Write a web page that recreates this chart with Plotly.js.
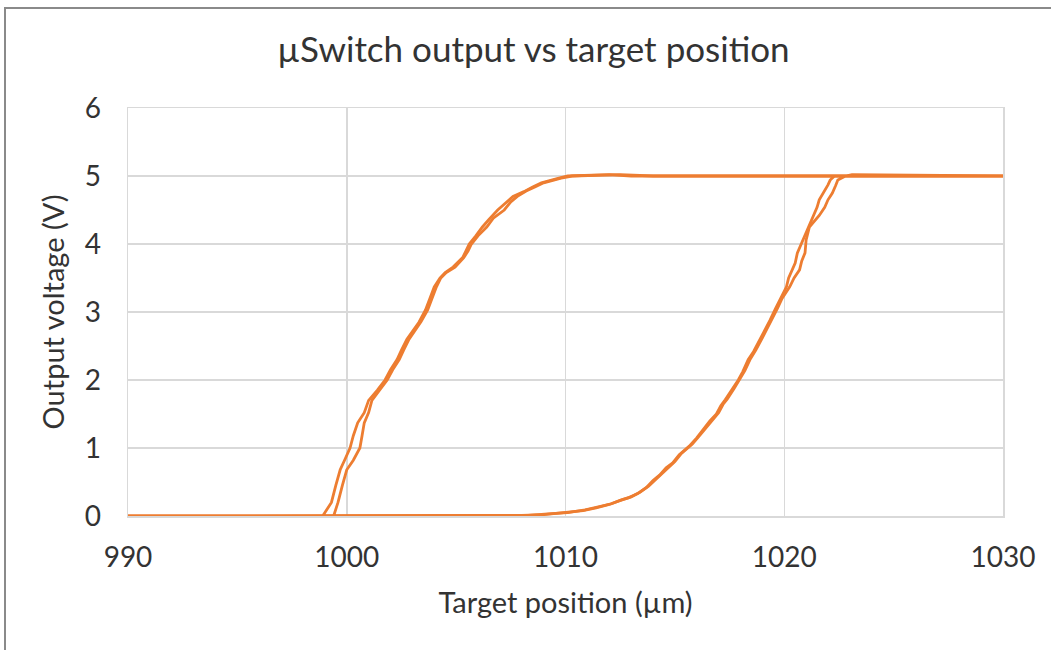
<!DOCTYPE html>
<html>
<head>
<meta charset="utf-8">
<script src="https://cdn.plot.ly/plotly-3.0.1.min.js"></script>
<style>
  html, body { margin: 0; padding: 0; background: #ffffff; }
  #chart { width: 1051px; height: 650px; position: absolute; left: 0; top: 0; }
  #frame { position: absolute; left: 4px; top: 7px; width: 1060px; height: 660px;
           border-top: 2px solid #8a8a8a; border-left: 2px solid #8a8a8a; pointer-events: none; }
</style>
</head>
<body>
<div id="chart"></div>
<div id="frame"></div>
<script>
// Cycle A: forward sweep (rising edge) then backward sweep (falling edge)
const riseX_A = [990, 1004, 1007.3, 1008.0, 1009.0, 1010.0, 1010.8, 1011.4, 1012.0, 1012.5, 1012.9, 1013.3, 1013.7, 1014.0, 1014.3, 1014.6, 1014.9, 1015.2, 1015.4, 1015.7, 1016.0, 1016.3, 1016.6, 1016.9, 1017.1, 1017.3, 1017.6, 1017.9, 1018.1, 1018.35, 1018.6, 1018.9, 1019.1, 1019.35, 1019.6, 1019.8, 1020.1, 1020.2, 1020.35, 1020.5, 1020.6, 1020.85, 1021.1, 1021.3, 1021.5, 1021.6, 1021.8, 1022.0, 1022.1, 1022.3, 1030];
const riseY_A = [0, 0, 0, 0.01, 0.02, 0.05, 0.08, 0.12, 0.17, 0.23, 0.27, 0.33, 0.42, 0.52, 0.60, 0.71, 0.78, 0.90, 0.96, 1.04, 1.15, 1.27, 1.40, 1.50, 1.62, 1.71, 1.85, 2.00, 2.12, 2.30, 2.42, 2.60, 2.72, 2.88, 3.05, 3.18, 3.37, 3.50, 3.62, 3.72, 3.87, 4.06, 4.25, 4.40, 4.54, 4.65, 4.75, 4.87, 4.94, 5.0, 5.0];
const fallX_A = [1030, 1013, 1012, 1010.8, 1010.1, 1009.7, 1009.3, 1008.9, 1008.5, 1008.1, 1007.6, 1007.3, 1006.9, 1006.5, 1006.2, 1005.9, 1005.6, 1005.45, 1005.3, 1004.86, 1004.5, 1004.26, 1004.0, 1003.8, 1003.6, 1003.3, 1003.0, 1002.75, 1002.5, 1002.3, 1002.0, 1001.75, 1001.4, 1001.0, 1000.8, 1000.5, 1000.3, 1000.15, 999.9, 999.7, 999.5, 999.3, 998.9, 990];
const fallY_A = [5, 5.0, 5.02, 5.01, 5.0, 4.97, 4.94, 4.9, 4.84, 4.77, 4.70, 4.62, 4.50, 4.36, 4.25, 4.12, 4.0, 3.9, 3.8, 3.66, 3.58, 3.50, 3.37, 3.20, 3.03, 2.85, 2.72, 2.60, 2.44, 2.30, 2.15, 2.0, 1.85, 1.70, 1.52, 1.37, 1.18, 1.0, 0.82, 0.68, 0.45, 0.2, 0, 0];

// Cycle B
const riseX_B = [990, 1005.5, 1007.6, 1008.3, 1009.2, 1010.1, 1010.9, 1011.5, 1012.1, 1012.6, 1013.0, 1013.4, 1013.8, 1014.1, 1014.4, 1014.7, 1015.0, 1015.3, 1015.5, 1015.8, 1016.1, 1016.4, 1016.7, 1017.0, 1017.2, 1017.4, 1017.7, 1018.0, 1018.2, 1018.45, 1018.7, 1019.0, 1019.2, 1019.45, 1019.7, 1019.9, 1020.25, 1020.45, 1020.7, 1020.8, 1020.95, 1021.0, 1021.15, 1021.6, 1021.85, 1022.0, 1022.2, 1022.35, 1022.45, 1022.8, 1023.1, 1030];
const riseY_B = [0, 0, 0, 0.01, 0.03, 0.05, 0.09, 0.13, 0.18, 0.24, 0.28, 0.35, 0.44, 0.53, 0.62, 0.72, 0.80, 0.92, 0.98, 1.06, 1.17, 1.29, 1.41, 1.52, 1.64, 1.72, 1.87, 2.02, 2.14, 2.31, 2.44, 2.62, 2.74, 2.90, 3.06, 3.20, 3.37, 3.50, 3.62, 3.75, 3.87, 4.06, 4.25, 4.42, 4.54, 4.65, 4.75, 4.86, 4.94, 5.0, 5.02, 5.0];
const fallX_B = [1030, 1014, 1012.5, 1011, 1010.3, 1009.8, 1009.4, 1009.0, 1008.6, 1008.2, 1007.8, 1007.5, 1007.2, 1006.7, 1006.4, 1006.0, 1005.7, 1005.55, 1005.35, 1004.95, 1004.55, 1004.3, 1004.1, 1003.9, 1003.7, 1003.4, 1003.1, 1002.85, 1002.6, 1002.4, 1002.1, 1001.85, 1001.5, 1001.15, 1001.0, 1000.8, 1000.7, 1000.6, 1000.3, 1000.0, 999.8, 999.6, 999.4, 990];
const fallY_B = [5, 5.0, 5.02, 5.01, 5.0, 4.97, 4.94, 4.9, 4.84, 4.78, 4.70, 4.62, 4.50, 4.38, 4.25, 4.12, 4.0, 3.9, 3.8, 3.66, 3.58, 3.50, 3.37, 3.20, 3.03, 2.86, 2.72, 2.60, 2.44, 2.30, 2.15, 2.0, 1.85, 1.70, 1.52, 1.37, 1.18, 1.0, 0.82, 0.68, 0.45, 0.2, 0, 0];

const xTicks = [990, 1000, 1010, 1020, 1030];
const yTicks = [0, 1, 2, 3, 4, 5, 6];

const lineColor = '#ED7D31';
const fontFam = 'Lato, "Open Sans", sans-serif';
const textColor = '#333333';

const traces = [
  { x: riseX_A.concat(fallX_A), y: riseY_A.concat(fallY_A) },
  { x: riseX_B.concat(fallX_B), y: riseY_B.concat(fallY_B) }
].map(d => ({
  x: d.x, y: d.y, type: 'scatter', mode: 'lines',
  line: { color: lineColor, width: 2.8 }, showlegend: false, hoverinfo: 'x+y'
}));

const layout = {
  width: 1051, height: 650,
  margin: { l: 128, r: 48, t: 108, b: 134 },
  paper_bgcolor: '#ffffff', plot_bgcolor: '#ffffff',
  font: { family: fontFam, color: textColor },
  title: { text: 'µSwitch output vs target position', x: 0.5076, xanchor: 'center', y: 0.923, yanchor: 'middle',
           font: { family: fontFam, size: 35, color: textColor } },
  xaxis: {
    range: [990, 1030], tickvals: xTicks, ticktext: xTicks.map(String),
    showgrid: true, gridcolor: '#d9d9d9', gridwidth: 1.5,
    showline: true, linecolor: '#d9d9d9', linewidth: 1.5, mirror: true,
    zeroline: false, ticks: '', ticklabelstandoff: 16,
    tickfont: { family: fontFam, size: 28, color: textColor },
    title: { text: 'Target position (µm)', font: { family: fontFam, size: 29, color: textColor }, standoff: 20 }
  },
  yaxis: {
    range: [0, 6], tickvals: yTicks, ticktext: yTicks.map(String),
    showgrid: true, gridcolor: '#d9d9d9', gridwidth: 1.5,
    showline: true, linecolor: '#d9d9d9', linewidth: 1.5, mirror: true,
    zeroline: false, ticks: '', ticklabelstandoff: 20,
    tickfont: { family: fontFam, size: 28, color: textColor },
    title: { text: 'Output voltage (V)', font: { family: fontFam, size: 29, color: textColor }, standoff: 11 }
  }
};

Plotly.newPlot('chart', traces, layout, { displayModeBar: false, staticPlot: true });
</script>
</body>
</html>
